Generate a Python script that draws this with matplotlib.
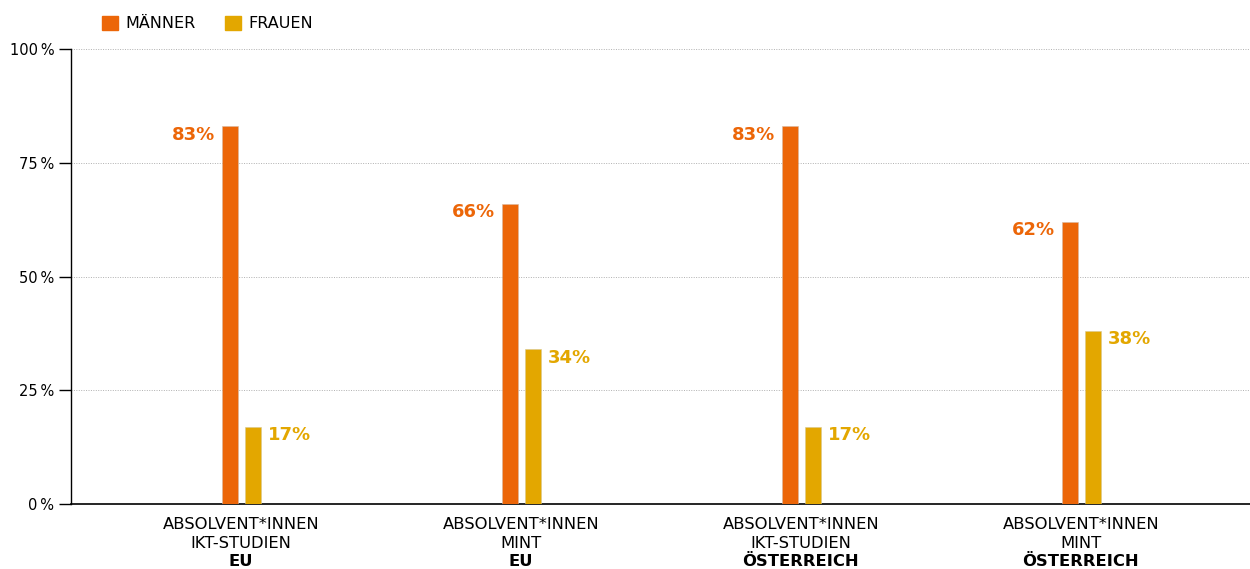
import matplotlib.pyplot as plt
import numpy as np
from matplotlib.patches import Patch

plt.rcParams['font.family'] = ['DejaVu Sans']

line1 = ['ABSOLVENT*INNEN', 'ABSOLVENT*INNEN', 'ABSOLVENT*INNEN', 'ABSOLVENT*INNEN']
line2 = ['IKT-STUDIEN', 'MINT', 'IKT-STUDIEN', 'MINT']
regions = ['EU', 'EU', 'ÖSTERREICH', 'ÖSTERREICH']
maenner = [83, 66, 83, 62]
frauen = [17, 34, 17, 38]
yticks = [0, 25, 50, 75, 100]
ytick_labels = ['0\u2009%', '25\u2009%', '50\u2009%', '75\u2009%', '100\u2009%']

c_m = '#EC6608'
c_f = '#E3A700'

fig = plt.figure(figsize=(12.5, 5.69), dpi=100)
ax = fig.add_axes([0.0568, 0.1142, 0.9432, 0.7997])

x = np.arange(len(line1))
w = 0.057
ax.bar(x - 0.040, maenner, width=w, color=c_m, edgecolor='#d8b8a0', linewidth=0.4, zorder=3)
ax.bar(x + 0.042, frauen, width=w, color=c_f, edgecolor='#d8c890', linewidth=0.4, zorder=3)

for i in range(len(x)):
    ax.text(x[i] - 0.092, maenner[i] - 1.8, f'{maenner[i]}%', color=c_m,
            ha='right', va='center', fontsize=13, fontweight='bold')
    ax.text(x[i] + 0.095, frauen[i] - 1.8, f'{frauen[i]}%', color=c_f,
            ha='left', va='center', fontsize=13, fontweight='bold')

ax.set_xlim(-0.607, 3.604)
ax.set_ylim(0, 100)
ax.set_yticks(yticks)
ax.set_yticklabels(ytick_labels, fontsize=10.5)
ax.yaxis.grid(True, linestyle=(0, (1, 1.5)), color='#b0b0b0', linewidth=0.7)
ax.set_axisbelow(True)
ax.tick_params(axis='y', length=9, width=1, pad=3)
ax.set_xticks([])
for s in ['top', 'right']:
    ax.spines[s].set_visible(False)
ax.spines['left'].set_linewidth(1)
ax.spines['bottom'].set_linewidth(1.2)

for i in range(len(x)):
    ax.text(x[i], -4.4, line1[i], ha='center', va='center', fontsize=11.8)
    ax.text(x[i], -8.6, line2[i], ha='center', va='center', fontsize=11.8)
    ax.text(x[i], -12.6, regions[i], ha='center', va='center', fontsize=11.8,
            fontweight='bold')

handles = [Patch(color=c_m, label='MÄNNER'), Patch(color=c_f, label='FRAUEN')]
fig.legend(handles=handles, loc='upper left', bbox_to_anchor=(0.070, 0.998),
           ncol=2, frameon=False, fontsize=11.5, handlelength=1.0,
           handleheight=1.0, columnspacing=1.8, handletextpad=0.5)

fig.savefig('out.png', dpi=100)
